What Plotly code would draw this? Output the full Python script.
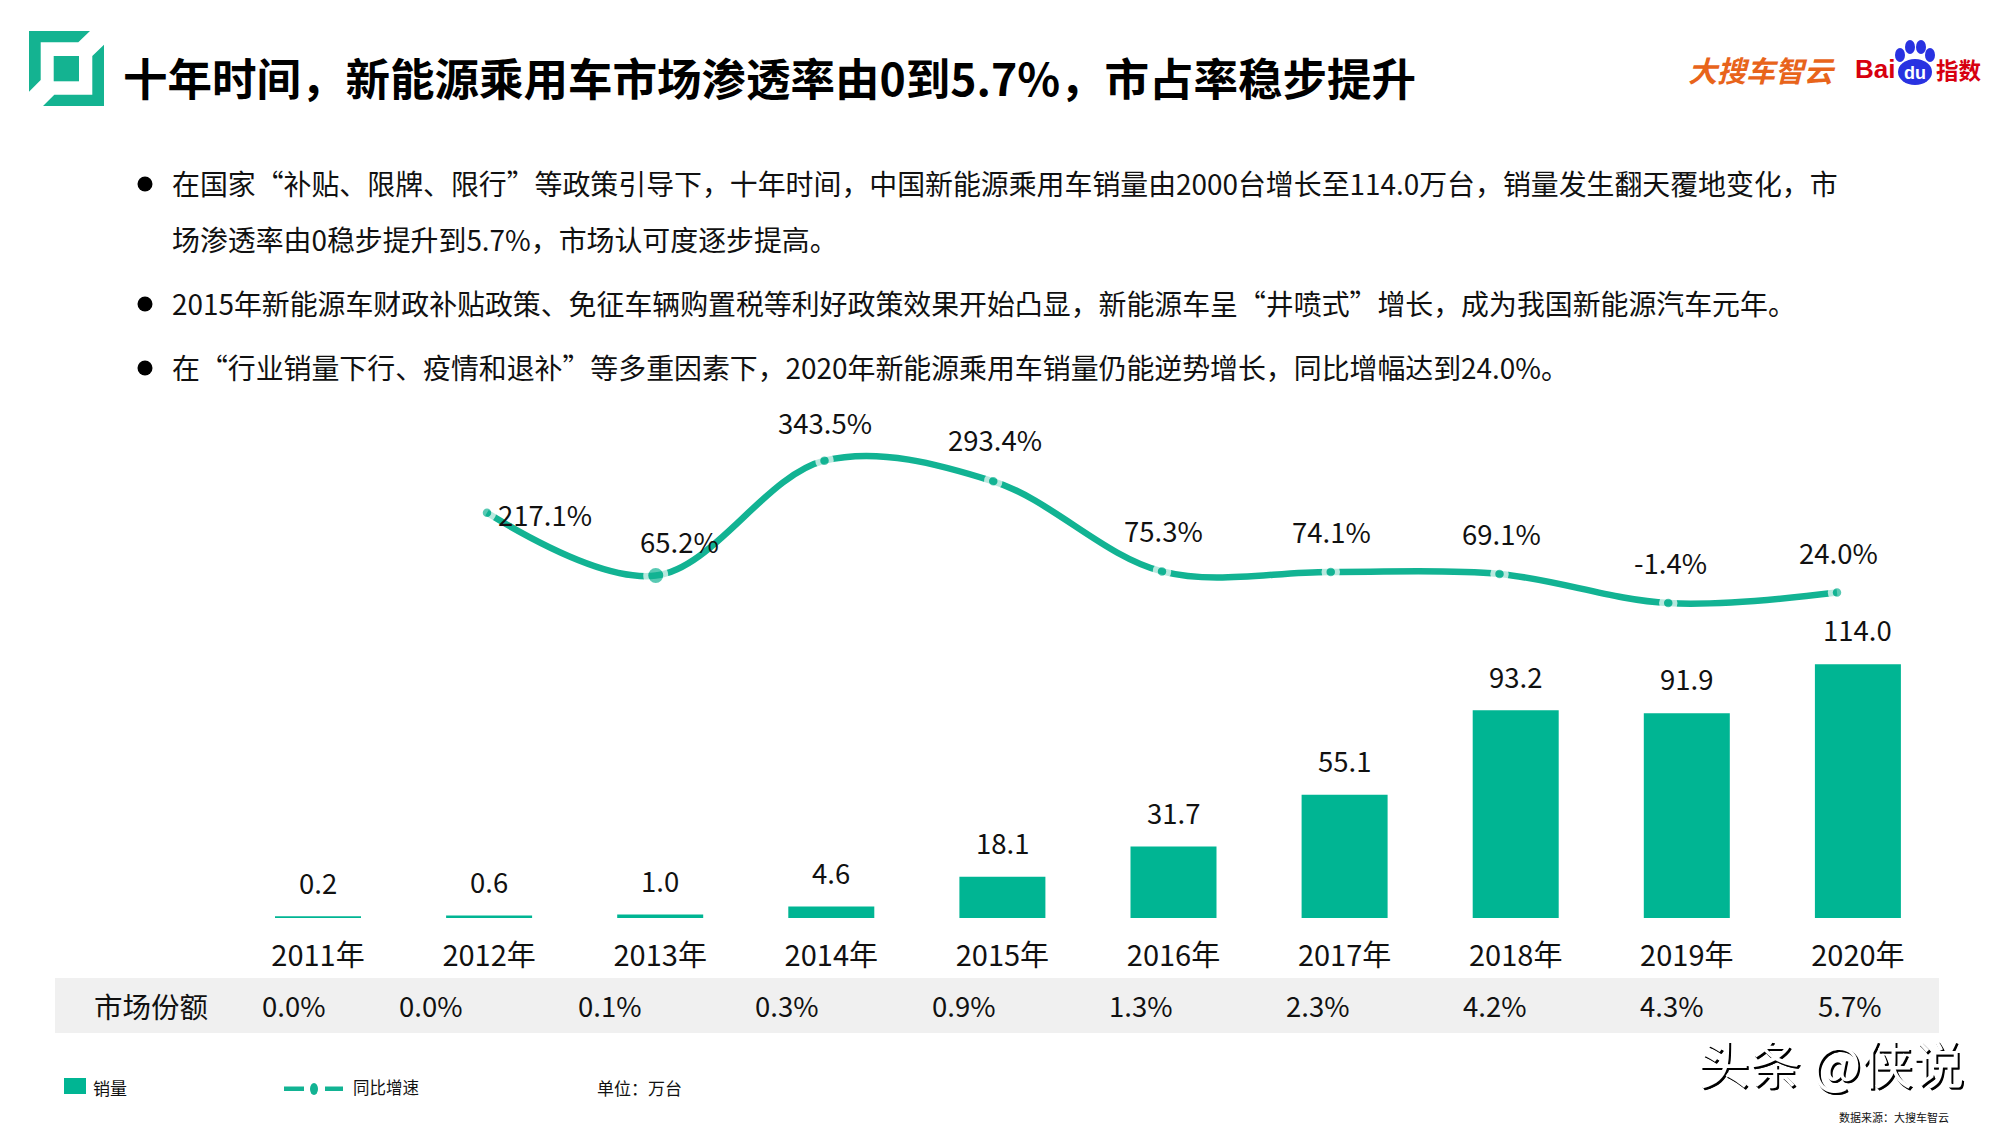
import plotly.graph_objects as go

W, H = 2000, 1125
FONT = "Noto Sans CJK SC"
LATIN = "Liberation Sans"
INK = "#111111"
TEAL = "#00B593"
LINE_TEAL = "#12B393"
RED = "#D7000F"
BLUE = "#2932E1"
ORANGE = "#E8641B"

years = ["2011年", "2012年", "2013年", "2014年", "2015年", "2016年", "2017年", "2018年", "2019年", "2020年"]
sales = [0.2, 0.6, 1.0, 4.6, 18.1, 31.7, 55.1, 93.2, 91.9, 114.0]
growth = [None, 217.1, 65.2, 343.5, 293.4, 75.3, 74.1, 69.1, -1.4, 24.0]
growth_labels = ["", "217.1%", "65.2%", "343.5%", "293.4%", "75.3%", "74.1%", "69.1%", "-1.4%", "24.0%"]
shares = ["0.0%", "0.0%", "0.1%", "0.3%", "0.9%", "1.3%", "2.3%", "4.2%", "4.3%", "5.7%"]
share_px = [294, 431, 610, 787, 964, 1141, 1318, 1495, 1672, 1850]
marker_sizes = [13.5, 13.5, 20, 13.5, 13.5, 13.5, 13.5, 13.5, 13.5, 13.5]
# label offset from each growth point, in px (right, up)
growth_offsets = [(0, 0), (58, -1), (24, 35), (0, 39), (2, 42), (1, 41), (1, 41), (2, 41), (2, 41), (1, 41)]

title = "十年时间，新能源乘用车市场渗透率由0到5.7%，市占率稳步提升"
bullets = [
    ("在国家“补贴、限牌、限行”等政策引导下，十年时间，中国新能源乘用车销量由2000台增长至114.0万台，销量发生翻天覆地变化，市", 183, True),
    ("场渗透率由0稳步提升到5.7%，市场认可度逐步提高。", 239, False),
    ("2015年新能源车财政补贴政策、免征车辆购置税等利好政策效果开始凸显，新能源车呈“井喷式”增长，成为我国新能源汽车元年。", 303, True),
    ("在“行业销量下行、疫情和退补”等多重因素下，2020年新能源乘用车销量仍能逆势增长，同比增幅达到24.0%。", 367, True),
]


def px(x):
    return x / W


def py(y):
    return 1 - y / H


def poly(points):
    return "M" + " L".join(f"{px(x):.5f},{py(y):.5f}" for x, y in points) + " Z"


def label(text, x, y, size, color=INK, anchor="left", family=FONT, shadow=None, **kw):
    font = dict(size=size, color=color, family=family)
    if shadow:
        font["shadow"] = shadow
    return dict(text=text, x=px(x), y=py(y), xref="paper", yref="paper", showarrow=False,
                xanchor=anchor, yanchor="middle", font=font, **kw)


def circle(cx, cy, rx, ry, color):
    return dict(type="circle", xref="paper", yref="paper", x0=px(cx - rx), x1=px(cx + rx),
                y0=py(cy + ry), y1=py(cy - ry), fillcolor=color, line_width=0, layer="above")


def rect(x0, y0, x1, y1, color, layer="below"):
    return dict(type="rect", xref="paper", yref="paper", x0=px(x0), x1=px(x1), y0=py(y1), y1=py(y0),
                fillcolor=color, line_width=0, layer=layer)


fig = go.Figure()
fig.add_bar(x=years, y=sales, xaxis="x", yaxis="y", width=0.488,
            marker=dict(color=TEAL, line=dict(color=TEAL, width=2.5)), hoverinfo="x+y")
fig.add_scatter(x=years, y=growth, xaxis="x2", yaxis="y2", mode="lines+markers",
                line=dict(color=LINE_TEAL, width=6.5, shape="spline", smoothing=1.0),
                marker=dict(color=LINE_TEAL, size=marker_sizes, line=dict(color="white", width=5)),
                cliponaxis=False, connectgaps=False)

annotations = []
for name, value in zip(years, sales):
    annotations.append(dict(text=f"{value:.1f}", x=name, y=value, xref="x", yref="y", showarrow=False,
                            yshift=36, xanchor="center", yanchor="middle",
                            font=dict(size=27.5, color=INK, family=FONT)))
for name, value, text, (dx, dy) in zip(years, growth, growth_labels, growth_offsets):
    if value is not None:
        annotations.append(dict(text=text, x=name, y=value, xref="x2", yref="y2", showarrow=False,
                                xshift=dx, yshift=dy, xanchor="center", yanchor="middle",
                                font=dict(size=27.5, color=INK, family=FONT)))

annotations.append(label(f"<b>{title}</b>", 121, 76, 44.5, color="#000000"))
shapes = []
for text, y, dot in bullets:
    annotations.append(label(text, 170, y, 27.9))
    if dot:
        shapes.append(circle(145, y + 1, 7.5, 7.5, "#000000"))

annotations.append(label("市场份额", 151, 1005, 28.5, anchor="center"))
for text, x in zip(shares, share_px):
    annotations.append(label(text, x, 1005, 27.5, anchor="center"))

# legend row
annotations += [
    label("销量", 91, 1087, 17),
    label("同比增速", 351, 1087, 16.5),
    label("单位：万台", 595, 1087, 17),
    label("数据来源：大搜车智云", 1837, 1117, 11),
]
shapes += [
    rect(55, 978, 1939, 1033, "#F0F0F0"),
    rect(64, 1078, 86, 1094, TEAL),
    rect(284, 1086.5, 304, 1091, LINE_TEAL),
    rect(325, 1086.5, 343, 1091, LINE_TEAL),
    circle(314, 1089, 4, 6, LINE_TEAL),
]

# top-left emblem
shapes += [
    dict(type="path", xref="paper", yref="paper", fillcolor="#14B391", line_width=0,
         path=poly([(29, 31), (90, 31), (78.3, 42.3), (40.7, 42.3), (40.7, 80), (29, 91.7)])),
    dict(type="path", xref="paper", yref="paper", fillcolor="#14B391", line_width=0,
         path=poly([(104, 106), (43, 106), (54.3, 94.7), (92.3, 94.7), (92.3, 56), (104, 44.7)])),
    rect(53.7, 56, 79, 81.3, "#14B391"),
]

# top-right logos
annotations.append(label("<b><i>大搜车智云</i></b>", 1686, 69, 29, color=ORANGE))
annotations.append(label("<b>Bai</b>", 1853, 69, 26, color=RED, family=LATIN))
annotations.append(label("<b>指数</b>", 1934, 69, 22.5, color=RED))
for cx, cy, rx, ry in [(1900, 55, 5, 7), (1910, 47, 5, 7), (1921, 47, 5, 7), (1930, 55, 5, 7)]:
    shapes.append(circle(cx, cy, rx, ry, BLUE))
shapes.append(circle(1915, 72, 17, 13, BLUE))
annotations.append(label("<b>du</b>", 1915, 73, 18, color="white", anchor="center", family=LATIN))

# embossed watermark: a single white text with a dark offset shadow
annotations.append(label("头条 @侠说", 1696, 1061, 51.5, color="#FFFFFF",
                         shadow="1.5px 1.5px 0 #000000, 2px 2px 0 #000000"))

X_STEP, X_ZERO = 171.1, 318
X2_STEP, X2_ZERO = 168.75, 487 - 168.75
Y_PX_PER, Y_BASE = 2.215, 918
Y2_PX_PER, Y2_ZERO = 0.413, 602.5
bar_top, line_top, line_bottom = 620, 420, 625

fig.update_layout(
    width=W, height=H, autosize=False, showlegend=False, bargap=0.5,
    margin=dict(l=0, r=0, t=0, b=0), paper_bgcolor="white", plot_bgcolor="rgba(0,0,0,0)",
    font=dict(family=FONT, color=INK),
    xaxis=dict(domain=[0, 1], anchor="y", type="category", categoryorder="array", categoryarray=years,
               range=[-X_ZERO / X_STEP, (W - X_ZERO) / X_STEP], showgrid=False, zeroline=False, showline=False,
               ticks="outside", ticklen=12, tickcolor="rgba(0,0,0,0)", tickfont=dict(size=29, color=INK, family=FONT)),
    yaxis=dict(domain=[py(Y_BASE), py(bar_top)], anchor="x", range=[0, (Y_BASE - bar_top) / Y_PX_PER],
               visible=False),
    xaxis2=dict(domain=[0, 1], anchor="y2", overlaying="x", type="category", categoryorder="array", categoryarray=years,
                range=[-X2_ZERO / X2_STEP, (W - X2_ZERO) / X2_STEP], visible=False),
    yaxis2=dict(domain=[py(line_bottom), py(line_top)], anchor="x2",
                range=[(Y2_ZERO - line_bottom) / Y2_PX_PER, (Y2_ZERO - line_top) / Y2_PX_PER], visible=False),
    annotations=annotations, shapes=shapes,
)
fig.write_html("out.html", config=dict(displayModeBar=False),
               post_script="document.body.style.margin='0';document.documentElement.style.overflow='hidden';")
